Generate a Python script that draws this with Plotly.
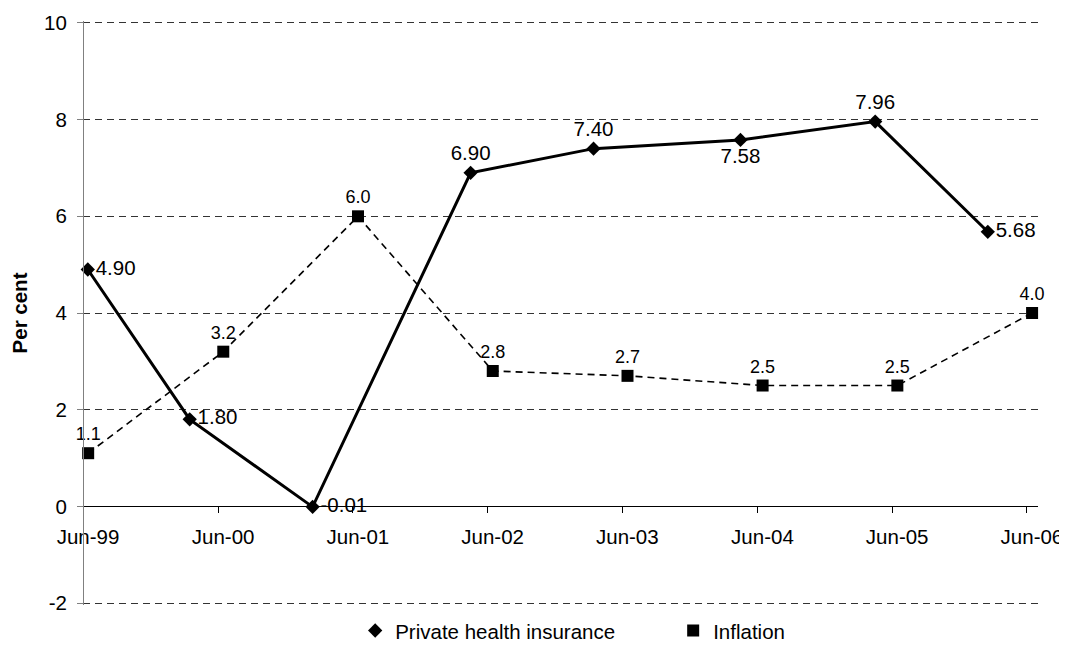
import plotly.graph_objects as go

# ---- data ----
phi_name = "Private health insurance"
phi_dates = ["1999-06-14", "2000-03-16", "2001-02-12", "2002-04-16",
             "2003-03-15", "2004-04-16", "2005-04-16", "2006-02-15"]
phi_values = [4.90, 1.80, -0.01, 6.90, 7.40, 7.58, 7.96, 5.68]
phi_label_pos = ["middle right", "middle right", "middle right", "top center",
                 "top center", "bottom center", "top center", "middle right"]

infl_name = "Inflation"
infl_dates = ["1999-06-15", "2000-06-15", "2001-06-15", "2002-06-15",
              "2003-06-15", "2004-06-15", "2005-06-15", "2006-06-15"]
infl_values = [1.1, 3.2, 6.0, 2.8, 2.7, 2.5, 2.5, 4.0]

y_ticks = [-2, 0, 2, 4, 6, 8, 10]
y_ticktext = ["-2", "0", "2", "4", "6", "8", "10"]
x_range = ["1999-06-01", "2006-07-01"]
y_range = [-2.04, 10.04]
y_title = "Per cent"

FONT = "Arial, Liberation Sans, sans-serif"

fig = go.Figure()

fig.add_trace(go.Scatter(
    x=infl_dates, y=infl_values, mode="lines+markers+text",
    line=dict(color="black", width=1.6, dash="7px,5px"),
    marker=dict(symbol="square", size=12, color="black"),
    texttemplate="%{y:.1f}", textposition="top center",
    textfont=dict(family=FONT, size=18, color="black"),
    cliponaxis=False, showlegend=False, name=infl_name))

fig.add_trace(go.Scatter(
    x=phi_dates, y=phi_values, mode="lines+markers+text",
    line=dict(color="black", width=3),
    marker=dict(symbol="diamond", size=11, color="black"),
    texttemplate="%{y:.2f}", textposition=phi_label_pos,
    textfont=dict(family=FONT, size=20.5, color="black"),
    cliponaxis=False, showlegend=False, name=phi_name))

# legend entries (markers only, as in the reference)
fig.add_trace(go.Scatter(x=[None], y=[None], mode="markers", name=phi_name,
                         marker=dict(symbol="diamond", size=11, color="black")))
fig.add_trace(go.Scatter(x=[None], y=[None], mode="markers", name=infl_name,
                         marker=dict(symbol="square", size=12, color="black")))

# the page body adds an 8px offset, so the figure is sized to fit the window
fig.update_layout(
    width=1059, height=642,
    margin=dict(l=75, r=29, t=13, b=45, autoexpand=False),
    paper_bgcolor="white", plot_bgcolor="white",
    font=dict(family=FONT, size=20.5, color="black"),
    showlegend=True,
    legend=dict(orientation="h", x=0.285, xanchor="left", y=-0.044, yanchor="middle",
                font=dict(family=FONT, size=20.5, color="black"),
                entrywidth=273, entrywidthmode="pixels",
                bgcolor="rgba(0,0,0,0)"),
    xaxis=dict(type="date", range=x_range, anchor="free",
               position=(0 - y_range[0]) / (y_range[1] - y_range[0]),
               tick0="1999-06-01", dtick="M12", tickformat="%b-%y",
               showgrid=False, zeroline=False, layer="below traces",
               showline=True, linecolor="black", linewidth=1,
               ticks="outside", ticklen=6, tickcolor="black",
               ticklabelstandoff=6, ticklabelshift=5,
               tickfont=dict(family=FONT, size=20.5, color="black")),
    yaxis=dict(range=y_range, tickvals=y_ticks, ticktext=y_ticktext,
               anchor="free", position=0,
               showgrid=True, gridcolor="#333333", gridwidth=1, griddash="7px,5px",
               zeroline=False,
               showline=True, linecolor="#808080", linewidth=1,
               ticks="outside", ticklen=6, tickcolor="#808080",
               ticklabelstandoff=6,
               tickfont=dict(family=FONT, size=20.5, color="black"),
               title=dict(text="<b>" + y_title + "</b>", standoff=16,
                          font=dict(family=FONT, size=20.5, color="black"))),
)

fig.write_html("out.html")
